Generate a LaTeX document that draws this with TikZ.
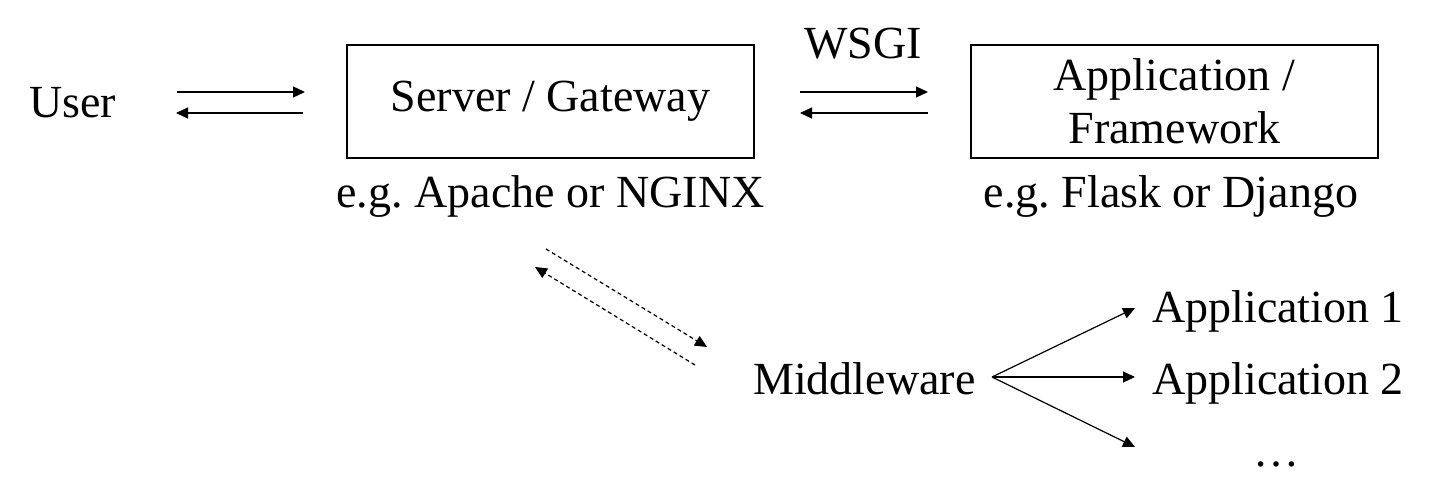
\documentclass[tikz,border=0pt]{standalone}
\usepackage{fontspec}
\setmainfont{Liberation Serif}
\usetikzlibrary{arrows.meta}
\frenchspacing
\begin{document}
\begin{tikzpicture}[x=1pt,y=-1pt,
  every node/.style={font=\fontsize{46}{53}\selectfont, inner sep=0pt},
  box/.style={draw, line width=1.5pt, text height=32pt, text depth=11pt},
  arr/.style={line width=1.2pt, -{Triangle[length=12pt,width=11pt]}},
  darr/.style={arr, dash pattern=on 4pt off 3pt}]
\useasboundingbox (0,0) rectangle (1429,502);
\node[anchor=base west] (user) at (29,118) {User};
\node[box, minimum width=407pt, minimum height=113pt] (server) at (550.5,101.5) {Server / Gateway};
\node[draw, line width=1.5pt, minimum width=407pt, minimum height=113pt, align=center] (app) at (1174.5,101.5) {Application /\\Framework};
\node[anchor=base] (wsgi) at (863,59) {WSGI};
\node[anchor=base] (apache) at (550.5,208) {e.g. Apache or NGINX};
\node[anchor=base] (flask) at (1171,208) {e.g. Flask or Django};
\node[anchor=base west] (mid) at (753,394) {Middleware};
\node[anchor=base west] (app1) at (1152,323) {Application 1};
\node[anchor=base west] (app2) at (1152,394) {Application 2};
\node[anchor=base] (dots) at (1276,466) {…};
% coordinates for connector ends
\coordinate (u1) at (177,92);  \coordinate (s1) at (305,92);
\coordinate (s2) at (303,113); \coordinate (u2) at (176,113);
\coordinate (w1) at (800,92);  \coordinate (w2) at (928,92);
\coordinate (w3) at (928,113); \coordinate (w4) at (800,113);
\coordinate (d1) at (546,249); \coordinate (d2) at (707,347);
\coordinate (d3) at (695,365); \coordinate (d4) at (535,267);
\coordinate (br) at (992,377);
\coordinate (t1) at (1135,308); \coordinate (t2) at (1135,377); \coordinate (t3) at (1135,447);
\draw[arr] (u1) -- (s1);
\draw[arr] (s2) -- (u2);
\draw[arr] (w1) -- (w2);
\draw[arr] (w3) -- (w4);
\draw[darr] (d1) -- (d2);
\draw[darr] (d3) -- (d4);
\draw[arr] (br) -- (t1);
\draw[arr] (br) -- (t2);
\draw[arr] (br) -- (t3);
\end{tikzpicture}
\end{document}
